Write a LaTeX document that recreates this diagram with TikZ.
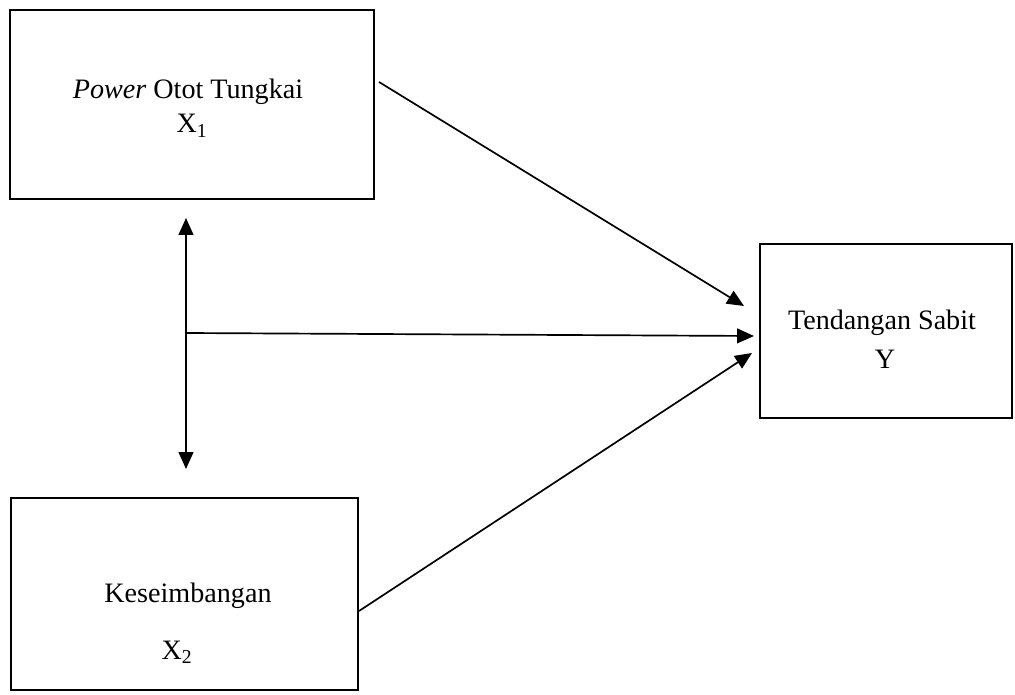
\documentclass[tikz,border=0pt]{standalone}
\usepackage{fontspec}
\setmainfont{Liberation Serif}
\usetikzlibrary{arrows.meta,calc}
\begin{document}
\begin{tikzpicture}[x=0.025cm,y=-0.025cm,font=\fontsize{20}{24}\selectfont,
    arr/.style={-{Triangle[length=12pt,width=10.5pt]},line width=1.2pt},
    dbl/.style={{Triangle[length=12pt,width=10.5pt]}-{Triangle[length=12pt,width=10.5pt]},line width=1.2pt}]
\useasboundingbox (0,0) rectangle (1015,695);
\begin{scope}[line width=1.4pt]
    \node[draw,minimum width=9.1cm,minimum height=4.725cm] (x1) at (192,104.5) {};
    \node[draw,minimum width=8.675cm,minimum height=4.8cm] (x2) at (184.5,594) {};
    \node[draw,minimum width=6.3cm,minimum height=4.35cm] (y) at (886,331) {};
\end{scope}
\node[anchor=base] (x1a) at (188,99) {\textit{Power} Otot Tungkai};
\node[anchor=base] (x1b) at (192,133) {X\textsubscript{1}};
\node[anchor=base] (x2a) at (188,603) {Keseimbangan};
\node[anchor=base] (x2b) at (177,659) {X\textsubscript{2}};
\node[anchor=base] (ya) at (882,330) {Tendangan Sabit};
\node[anchor=base] (yb) at (885,369) {Y};
\coordinate (up) at ($(x1.south)+(-6,18)$);
\coordinate (dn) at ($(x2.north)+(1.5,-28)$);
\coordinate (m) at (186,333);
\draw[dbl] (up) -- (dn);
\draw[arr] ($(x1.east)+(4,-22.5)$) -- ($(y.west)+(-15,-25)$);
\draw[arr] (m) -- ($(y.west)+(-5,5)$);
\draw[arr] ($(x2.east)+(0,17)$) -- ($(y.west)+(-7,22)$);
\end{tikzpicture}
\end{document}
